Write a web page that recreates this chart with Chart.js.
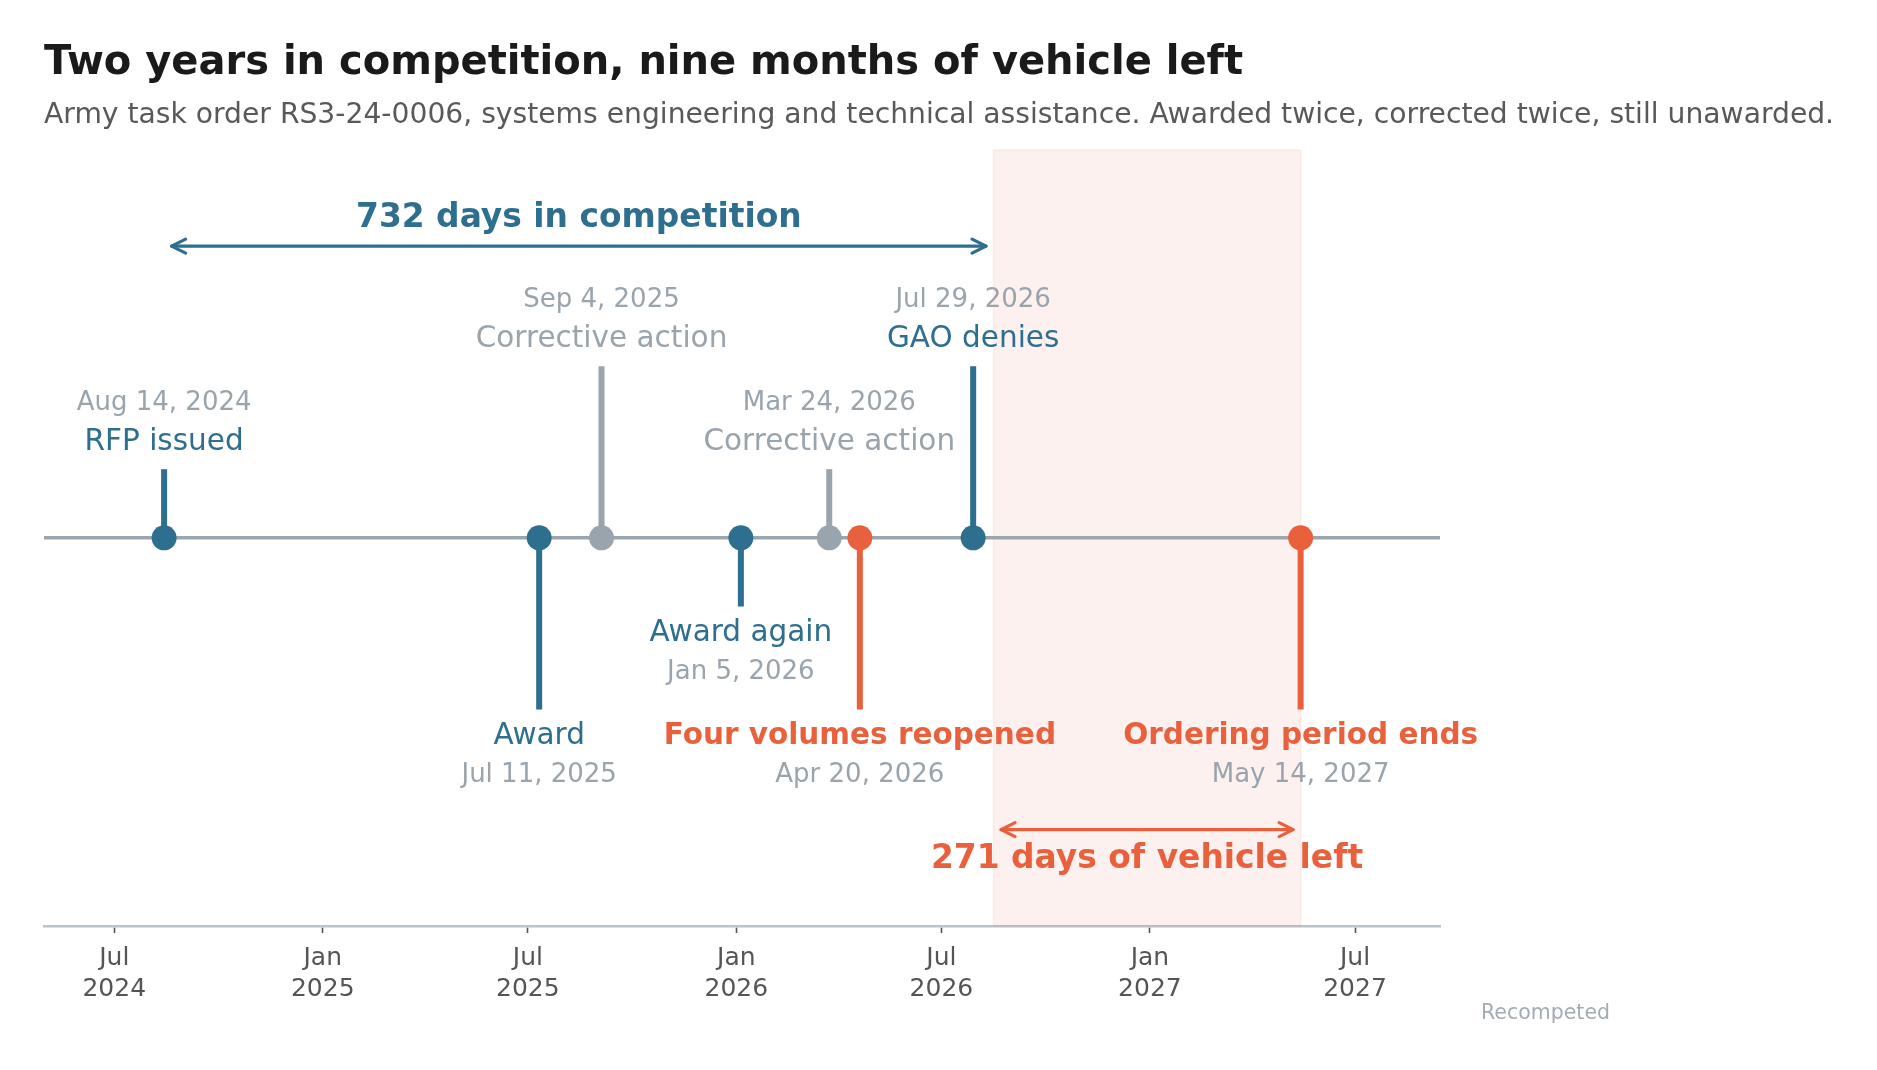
<!DOCTYPE html>
<html><head><meta charset="utf-8">
<script src="https://cdn.jsdelivr.net/npm/chart.js@4.4.1/dist/chart.umd.min.js"></script>
<style>html,body{margin:0;padding:0;background:#fff}#wrap{width:1877px;height:1070px;position:relative}</style>
</head><body><div id="wrap"><canvas id="c"></canvas></div>
<script>
// ---- data ----
const eventDates = ['2024-08-14','2025-07-11','2025-09-04','2026-01-05','2026-03-24','2026-04-20','2026-07-29','2027-05-14'];
const eventNames = ['RFP issued','Award','Corrective action','Award again','Corrective action','Four volumes reopened','GAO denies','Ordering period ends'];
const eventDateLabels = ['Aug 14, 2024','Jul 11, 2025','Sep 4, 2025','Jan 5, 2026','Mar 24, 2026','Apr 20, 2026','Jul 29, 2026','May 14, 2027'];
const eventKinds = ['milestone','milestone','corrective','milestone','corrective','deadline','milestone','deadline'];
const tickDates = ['2024-07-01','2025-01-01','2025-07-01','2026-01-01','2026-07-01','2027-01-01','2027-07-01'];
const tickLabels = [['Jul','2024'],['Jan','2025'],['Jul','2025'],['Jan','2026'],['Jul','2026'],['Jan','2027'],['Jul','2027']];
const spanStarts = ['2024-08-14','2026-08-16'];
const spanEnds = ['2026-08-16','2027-05-14'];
const spanLabels = ['732 days in competition','271 days of vehicle left'];
const spanKinds = ['milestone','deadline'];
const axisRange = ['2024-04-30','2027-09-14'];
const titleText = 'Two years in competition, nine months of vehicle left';
const subtitleText = 'Army task order RS3-24-0006, systems engineering and technical assistance. Awarded twice, corrected twice, still unawarded.';
const footnoteText = 'Recompeted';

// ---- layout (not data) ----
const stemLevels = [0.4,-1,1,-0.4,0.4,-1,1,-1];
const spanLevels = [1.7,-1.7];
const kindColor = {milestone:'#2e6e8e', corrective:'#9aa4ad', deadline:'#e8603c'};
const FONT = '"DejaVu Sans", "Noto Sans", sans-serif';

const EPOCH = Date.UTC(2024,0,1);
function dayNum(s){const p=s.split('-').map(Number);return (Date.UTC(p[0],p[1]-1,p[2])-EPOCH)/86400000;}

const xMin = dayNum(axisRange[0]), xMax = dayNum(axisRange[1]);
const tickVals = tickDates.map(dayNum);

const datasets = [];
datasets.push({type:'line', data:[{x:xMin,y:0},{x:xMax,y:0}], borderColor:'#9aa5ae', borderWidth:3.5, pointRadius:0, order:3});
eventDates.forEach((d,i)=>{
  datasets.push({type:'line', data:[{x:dayNum(d),y:0},{x:dayNum(d),y:stemLevels[i]}], borderColor:kindColor[eventKinds[i]], borderWidth:6, borderCapStyle:'butt', pointRadius:0, order:2});
});
datasets.push({type:'scatter', data:eventDates.map(d=>({x:dayNum(d),y:0})), pointRadius:12.5, pointHoverRadius:12.5, pointBorderWidth:0,
  pointBackgroundColor:eventKinds.map(k=>kindColor[k]), backgroundColor:eventKinds.map(k=>kindColor[k]), order:1});

function drawArrow(ctx,x1,x2,y,color){
  const sh=7.5; x1+=sh; x2-=sh;
  ctx.save(); ctx.strokeStyle=color; ctx.lineWidth=3.2; ctx.lineCap='round'; ctx.lineJoin='round';
  ctx.beginPath(); ctx.moveTo(x1,y); ctx.lineTo(x2,y); ctx.stroke();
  ctx.beginPath(); ctx.moveTo(x1+14,y-7); ctx.lineTo(x1,y); ctx.lineTo(x1+14,y+7); ctx.stroke();
  ctx.beginPath(); ctx.moveTo(x2-14,y-7); ctx.lineTo(x2,y); ctx.lineTo(x2-14,y+7); ctx.stroke();
  ctx.restore();
}

const decor = {
  id:'decor',
  beforeDatasetsDraw(chart){
    const {ctx, chartArea:a, scales:{x}} = chart;
    const x0 = x.getPixelForValue(dayNum(spanStarts[1])), x1 = x.getPixelForValue(dayNum(spanEnds[1]));
    ctx.save();
    ctx.fillStyle='rgba(226,104,74,0.09)';
    ctx.fillRect(x0,a.top,x1-x0,a.bottom-a.top);
    ctx.strokeStyle='rgba(226,104,74,0.10)'; ctx.lineWidth=1.5;
    ctx.strokeRect(x0,a.top,x1-x0,a.bottom-a.top);
    ctx.restore();
  },
  afterDatasetsDraw(chart){
    const {ctx, scales:{x,y}} = chart;
    ctx.save();
    ctx.textAlign='center'; ctx.textBaseline='alphabetic';
    eventDates.forEach((d,i)=>{
      const px = x.getPixelForValue(dayNum(d));
      const py = y.getPixelForValue(stemLevels[i]);
      const kind = eventKinds[i];
      const up = stemLevels[i] > 0;
      ctx.font = (kind==='deadline'?'bold ':'') + '29.5px ' + FONT;
      ctx.fillStyle = kindColor[kind];
      ctx.fillText(eventNames[i], px, up ? py-19.5 : py+34.5);
      ctx.font = '26px ' + FONT;
      ctx.fillStyle = '#9aa4ad';
      ctx.fillText(eventDateLabels[i], px, up ? py-59.5 : py+73);
    });
    spanStarts.forEach((s,i)=>{
      const x0 = x.getPixelForValue(dayNum(s)), x1 = x.getPixelForValue(dayNum(spanEnds[i]));
      const py = y.getPixelForValue(spanLevels[i]);
      const col = kindColor[spanKinds[i]];
      drawArrow(ctx,x0,x1,py,col);
      ctx.font = 'bold 32.9px ' + FONT; ctx.fillStyle = col; ctx.textAlign='center';
      ctx.fillText(spanLabels[i], (x0+x1)/2, spanLevels[i] > 0 ? py-19.3 : py+38.3);
    });
    ctx.textAlign='left';
    ctx.font='bold 40px ' + FONT; ctx.fillStyle='#1a1a1a';
    ctx.fillText(titleText, 44, 74);
    ctx.font='28.2px ' + FONT; ctx.fillStyle='#595959';
    ctx.fillText(subtitleText, 44, 123);
    ctx.textAlign='right';
    ctx.font='20.5px ' + FONT; ctx.fillStyle='#a3acb4';
    ctx.fillText(footnoteText, 1610, 1019);
    ctx.restore();
  }
};

new Chart(document.getElementById('c'), {
  data:{datasets},
  options:{
    responsive:true, maintainAspectRatio:false, animation:false,
    events:[],
    layout:{padding:{left:44,right:437,top:150,bottom:44}},
    plugins:{legend:{display:false}, tooltip:{enabled:false}},
    scales:{
      x:{type:'linear', min:xMin, max:xMax,
        afterBuildTicks(s){ s.ticks = tickVals.map(v=>({value:v})); },
        afterFit(s){ s.height = 100; },
        ticks:{autoSkip:false, maxRotation:0, padding:10, color:'#555555', font:{family:FONT, size:25, lineHeight:1.24},
          callback(v,i){ return tickLabels[i]; }},
        grid:{display:true, drawOnChartArea:false, drawTicks:true, tickLength:7, tickColor:'#555555', tickWidth:1.6},
        border:{display:true, color:'#bcc4cc', width:2.5}
      },
      y:{type:'linear', display:false, min:-2.262, max:2.26}
    }
  },
  plugins:[decor]
});
</script></body></html>
